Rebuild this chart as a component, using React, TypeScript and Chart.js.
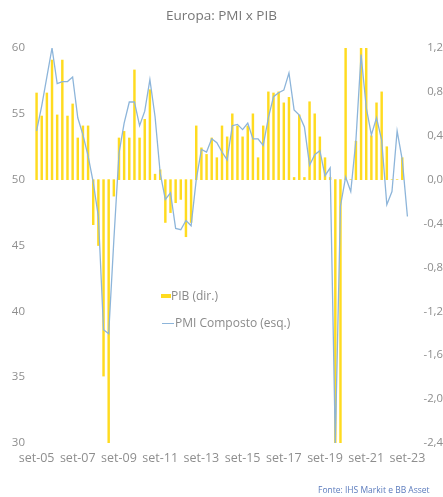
import React, { useEffect, useRef } from "react";
import { Chart, registerables } from "chart.js";

Chart.register(...registerables);

const CATEGORIES = [
  "set-05", "dez-05",
  "mar-06", "jun-06", "set-06", "dez-06",
  "mar-07", "jun-07", "set-07", "dez-07",
  "mar-08", "jun-08", "set-08", "dez-08",
  "mar-09", "jun-09", "set-09", "dez-09",
  "mar-10", "jun-10", "set-10", "dez-10",
  "mar-11", "jun-11", "set-11", "dez-11",
  "mar-12", "jun-12", "set-12", "dez-12",
  "mar-13", "jun-13", "set-13", "dez-13",
  "mar-14", "jun-14", "set-14", "dez-14",
  "mar-15", "jun-15", "set-15", "dez-15",
  "mar-16", "jun-16", "set-16", "dez-16",
  "mar-17", "jun-17", "set-17", "dez-17",
  "mar-18", "jun-18", "set-18", "dez-18",
  "mar-19", "jun-19", "set-19", "dez-19",
  "mar-20", "jun-20", "set-20", "dez-20",
  "mar-21", "jun-21", "set-21", "dez-21",
  "mar-22", "jun-22", "set-22", "dez-22",
  "mar-23", "jun-23", "set-23",
];

// PIB (dir.) – quarterly % change, right axis
const PIB = [
  0.79, 0.58,
  0.79, 1.09, 0.59, 1.09,
  0.58, 0.69, 0.38, 0.49,
  0.49, -0.41, -0.6, -1.79,
  -2.4, -0.15, 0.38, 0.44,
  0.38, 1.0, 0.38, 0.55,
  0.82, 0.05, 0.09, -0.39,
  -0.3, -0.21, -0.18, -0.52,
  -0.39, 0.49, 0.29, 0.23,
  0.38, 0.2, 0.49, 0.39,
  0.6, 0.49, 0.39, 0.49,
  0.6, 0.2, 0.49, 0.8,
  0.79, 0.8, 0.7, 0.75,
  0.02, 0.59, 0.02, 0.71,
  0.6, 0.39, 0.2, 0.02,
  -2.4, -2.4, 1.2, 0.0,
  0.35, 1.2, 1.2, 0.4,
  0.7, 0.8, 0.3, 0.0,
  0.0, 0.2, null,
];

// PMI Composto (esq.) – left axis
const PMI = [
  53.7, 55.6,
  57.8, 60.0, 57.3, 57.45,
  57.45, 57.8, 54.7, 53.4,
  51.8, 49.8, 47.2, 38.6,
  38.3, 45.4, 52.0, 54.3,
  55.9, 55.9, 54.1, 55.2,
  57.6, 54.8, 50.5, 48.5,
  49.0, 46.3, 46.2, 46.9,
  46.5, 50.0, 52.3, 52.1,
  53.1, 52.8, 52.1, 51.5,
  54.1, 54.2, 53.8, 54.3,
  53.1, 53.1, 52.6, 54.7,
  56.3, 56.6, 56.8, 58.1,
  55.3, 54.9, 54.0, 51.1,
  51.9, 52.2, 50.3, 50.9,
  30.0, 48.0, 50.2, 49.1,
  53.0, 59.5, 55.5, 53.4,
  54.7, 53.0, 48.1, 49.1,
  53.7, 51.5, 47.2,
];

const LEFT_TICKS = [30, 35, 40, 45, 50, 55, 60];
const RIGHT_TICKS = [-2.4, -2.0, -1.6, -1.2, -0.8, -0.4, 0.0, 0.4, 0.8, 1.2];
const X_LABEL_EVERY = 8;

const TITLE = "Europa: PMI x PIB";
const LEGEND_PIB = "PIB (dir.)";
const LEGEND_PMI = "PMI Composto (esq.)";
const SOURCE = "Fonte: IHS Markit e BB Asset";

const FONT = "'Open Sans', 'DejaVu Sans', sans-serif";
const TICK_COLOR = "#8e8e8e";
const BAR_COLOR = "#FFDB1F";
const LINE_COLOR = "#8DB5DA";

export default function App() {
  const ref = useRef<HTMLCanvasElement>(null);

  useEffect(() => {
    if (!ref.current) return;
    const chart = new Chart(ref.current, {
      type: "bar",
      data: {
        labels: CATEGORIES,
        datasets: [
          {
            type: "line",
            label: LEGEND_PMI,
            data: PMI,
            yAxisID: "yL",
            borderColor: LINE_COLOR,
            borderWidth: 1.3,
            pointRadius: 0,
            tension: 0,
            order: 0,
          } as any,
          {
            type: "bar",
            label: LEGEND_PIB,
            data: PIB,
            yAxisID: "yR",
            backgroundColor: BAR_COLOR,
            barThickness: 1.8,
            order: 1,
          } as any,
        ],
      },
      options: {
        responsive: false,
        animation: false,
        layout: { padding: { top: 48, left: 0, right: 0, bottom: 0 } },
        plugins: {
          legend: { display: false },
          tooltip: { enabled: false },
          title: { display: false },
        },
        scales: {
          x: {
            offset: true,
            grid: { display: false, drawTicks: false },
            border: { display: false },
            ticks: {
              autoSkip: false,
              maxRotation: 0,
              minRotation: 0,
              padding: 8,
              color: TICK_COLOR,
              font: { family: FONT, size: 12.5 },
              callback: (_v: any, i: number) =>
                i % X_LABEL_EVERY === 0 ? CATEGORIES[i] : null,
            },
            afterFit: (s: any) => {
              s.height = 54;
            },
          },
          yL: {
            type: "linear",
            position: "left",
            min: 30,
            max: 60,
            grid: { display: false, drawTicks: false },
            border: { display: false },
            ticks: {
              padding: 9,
              color: TICK_COLOR,
              font: { family: FONT, size: 11.5 },
              callback: (v: any) => String(v),
            },
            afterBuildTicks: (s: any) => {
              s.ticks = LEFT_TICKS.map((v) => ({ value: v }));
            },
            afterFit: (s: any) => {
              s.width = 34;
            },
          },
          yR: {
            type: "linear",
            position: "right",
            min: -2.4,
            max: 1.2,
            grid: { display: false, drawTicks: false },
            border: { display: false },
            ticks: {
              padding: 6,
              crossAlign: "far",
              color: TICK_COLOR,
              font: { family: FONT, size: 11.3 },
              callback: (v: any) => Number(v).toFixed(1).replace(".", ","),
            },
            afterBuildTicks: (s: any) => {
              s.ticks = RIGHT_TICKS.map((v) => ({ value: v }));
            },
            afterFit: (s: any) => {
              s.width = 33;
            },
          },
        } as any,
      },
    });
    return () => chart.destroy();
  }, []);

  return (
    <div
      style={{
        position: "absolute",
        left: 0,
        top: 0,
        width: 443,
        height: 497,
        overflow: "hidden",
        background: "#ffffff",
        fontFamily: FONT,
      }}
    >
      <canvas
        ref={ref}
        width={443}
        height={497}
        style={{ position: "absolute", left: 0, top: 0, width: 443, height: 497 }}
      />
      <div
        style={{
          position: "absolute",
          left: 0,
          top: 5,
          width: 443,
          textAlign: "center",
          fontSize: 13.5,
          lineHeight: "20px",
          color: "#767676",
        }}
      >
        {TITLE}
      </div>
      <div
        style={{
          position: "absolute",
          left: 161,
          top: 294,
          width: 10,
          height: 4,
          background: BAR_COLOR,
        }}
      />
      <div
        style={{
          position: "absolute",
          left: 171,
          top: 287,
          fontSize: 12,
          lineHeight: "18px",
          color: "#8a8a8a",
          whiteSpace: "nowrap",
        }}
      >
        {LEGEND_PIB}
      </div>
      <div
        style={{
          position: "absolute",
          left: 162,
          top: 323,
          width: 12,
          height: 1,
          background: LINE_COLOR,
        }}
      />
      <div
        style={{
          position: "absolute",
          left: 175,
          top: 314,
          fontSize: 12,
          lineHeight: "18px",
          color: "#8a8a8a",
          whiteSpace: "nowrap",
        }}
      >
        {LEGEND_PMI}
      </div>
      <div
        style={{
          position: "absolute",
          left: 318,
          top: 484,
          fontSize: 8.5,
          lineHeight: "12px",
          color: "#5b7bbd",
          whiteSpace: "nowrap",
        }}
      >
        {SOURCE}
      </div>
    </div>
  );
}
